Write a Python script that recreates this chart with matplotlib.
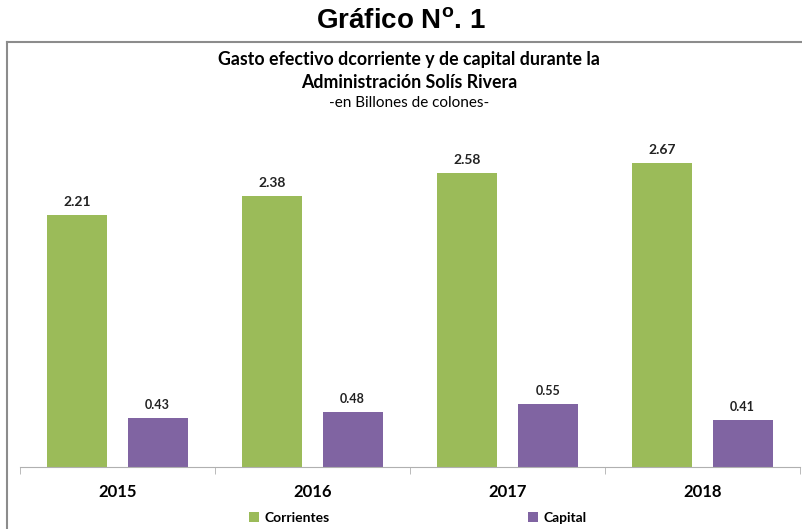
import matplotlib.pyplot as plt
import numpy as np

years = ['2015', '2016', '2017', '2018']
corrientes = [2.21, 2.38, 2.58, 2.67]
capital = [0.43, 0.48, 0.55, 0.41]

green = '#9BBB59'
purple = '#8064A2'
frame_gray = '#8c8c8c'

plt.rcParams['font.family'] = ['Lato', 'DejaVu Sans']
plt.rcParams['mathtext.fontset'] = 'custom'
plt.rcParams['mathtext.bf'] = 'Liberation Sans:bold'
plt.rcParams['mathtext.rm'] = 'Liberation Sans:bold'

fig = plt.figure(figsize=(8.02, 5.29), dpi=100)

# outer frame (left + top lines)
fig.add_artist(plt.Line2D([7 / 802, 7 / 802], [0, 1 - 42 / 529], color=frame_gray, lw=1.5))
fig.add_artist(plt.Line2D([7 / 802, 1], [1 - 42 / 529, 1 - 42 / 529], color=frame_gray, lw=1.5))

fig.text(0.5, 1 - 22 / 529, r'Gráfico N$^{\mathrm{o}}$. 1', ha='center', va='center',
         fontsize=20, fontweight='bold', family='Liberation Sans')
fig.text(0.51, 1 - 60 / 529, 'Gasto efectivo dcorriente y de capital durante la',
         ha='center', va='center', fontsize=12.8, fontweight='bold')
fig.text(0.51, 1 - 82 / 529, 'Administración Solís Rivera',
         ha='center', va='center', fontsize=12.8, fontweight='bold')
fig.text(0.51, 1 - 103 / 529, '-en Billones de colones-',
         ha='center', va='center', fontsize=11)

ax = fig.add_axes([20 / 802, 62 / 529, 780 / 802, 342 / 529])
x = np.arange(len(years))
off = 0.206
w = 0.306
b1 = ax.bar(x - off, corrientes, w, color=green, label='Corrientes')
b2 = ax.bar(x + off, capital, w, color=purple, label='Capital')

for rect, v in zip(b1, corrientes):
    ax.annotate(f'{v:.2f}', (rect.get_x() + rect.get_width() / 2, v), xytext=(0, 5),
                textcoords='offset points', ha='center', va='bottom',
                fontsize=10, fontweight='bold', color='#222222')
for rect, v in zip(b2, capital):
    ax.annotate(f'{v:.2f}', (rect.get_x() + rect.get_width() / 2, v), xytext=(0, 5),
                textcoords='offset points', ha='center', va='bottom',
                fontsize=9, fontweight='bold', color='#222222')

ax.set_xlim(-0.5, len(years) - 0.5)
ax.set_ylim(0, 3.0)
ax.set_yticks([])
ax.set_xticks(x)
ax.set_xticklabels(years, fontsize=12, fontweight='bold')
ax.tick_params(axis='x', which='major', length=0, pad=12)
ax.set_xticks(np.arange(-0.5, len(years)), minor=True)
ax.tick_params(axis='x', which='minor', length=5, color='#b0b0b0')
for s in ['top', 'right', 'left']:
    ax.spines[s].set_visible(False)
ax.spines['bottom'].set_color('#b0b0b0')

ax.legend(loc='center', bbox_to_anchor=(0.51, -51 / 342), ncol=2, frameon=False,
          handlelength=0.7, handleheight=0.7, handletextpad=0.4, columnspacing=14.3,
          prop={'family': 'Lato', 'weight': 'bold', 'size': 10})

fig.savefig('out.png', dpi=100)
